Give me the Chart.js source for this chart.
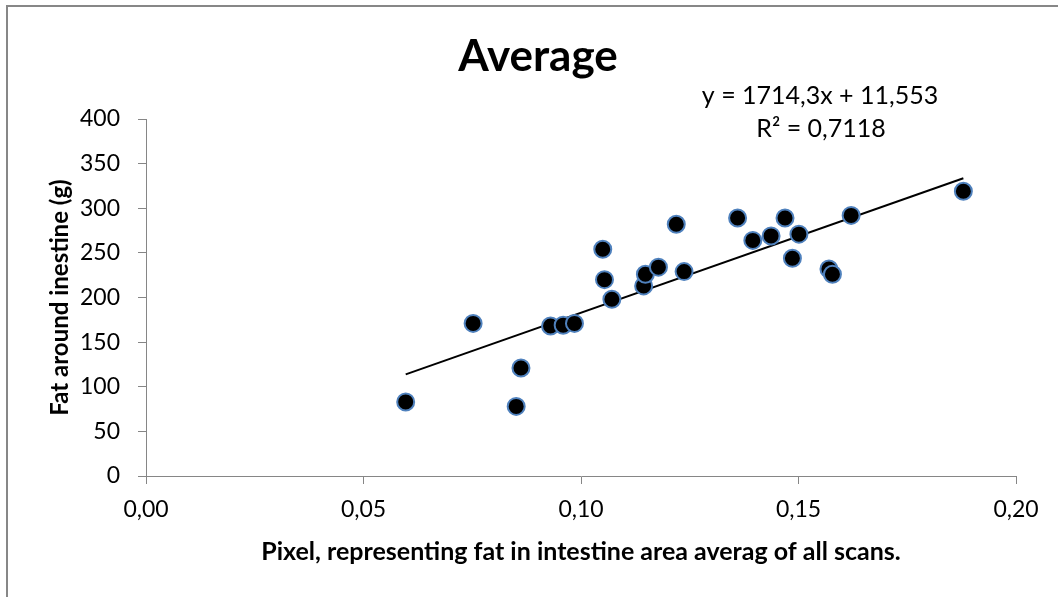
<!DOCTYPE html>
<html lang="en">
<head>
    <meta charset="UTF-8">
    <title>Average</title>
    <script src="https://cdn.jsdelivr.net/npm/chart.js"></script>
    <style>
        body {
            margin: 0;
            background-color: #ffffff;
            overflow: hidden;
        }
        #frame {
            position: absolute;
            left: 6px;
            top: 5px;
            width: 1060px;
            height: 600px;
            border-left: 2px solid #878787;
            border-top: 2px solid #878787;
        }
        #chart-box {
            position: absolute;
            left: 0;
            top: 0;
        }
    </style>
</head>
<body>

<div id="frame"></div>
<div id="chart-box">
    <canvas id="avgChart" width="1058" height="597"></canvas>
</div>

<script>
    // values
    const pixelFat = [0.0597, 0.0752, 0.0851, 0.0862, 0.0930, 0.0959, 0.0985, 0.1050, 0.1054, 0.1071,
                      0.1144, 0.1148, 0.1178, 0.1219, 0.1237, 0.1360, 0.1395, 0.1437, 0.1469, 0.1486,
                      0.1501, 0.1570, 0.1578, 0.1621, 0.1879];
    const fatGrams = [83, 171, 78, 121, 168, 169, 171, 254, 220, 198,
                      213, 226, 234, 282, 229, 289, 264, 269, 289, 244,
                      271, 232, 226, 292, 319];
    const xTicks = [0, 0.05, 0.10, 0.15, 0.20];
    const yTicks = [0, 50, 100, 150, 200, 250, 300, 350, 400];

    // trendline as printed on the chart
    const slope = 1714.3;
    const intercept = 11.553;
    const equationLines = ['y = 1714,3x + 11,553', 'R\u00B2 = 0,7118'];

    const FONT = 'Lato, "Open Sans", sans-serif';
    const GREY = '#868686';

    const points = pixelFat.map((x, i) => ({ x: x, y: fatGrams[i] }));
    const xMin = Math.min(...pixelFat);
    const xMax = Math.max(...pixelFat);
    const trend = [
        { x: xMin, y: slope * xMin + intercept },
        { x: xMax, y: slope * xMax + intercept }
    ];

    // title and equation text, placed like the original
    const textPlugin = {
        id: 'chartText',
        afterDraw(chart) {
            const ctx = chart.ctx;
            ctx.save();
            ctx.fillStyle = '#000';
            ctx.textAlign = 'center';
            ctx.textBaseline = 'alphabetic';
            ctx.font = 'bold 44px ' + FONT;
            ctx.fillText('Average', 538, 71);
            ctx.font = '25px ' + FONT;
            ctx.fillText(equationLines[0], 820, 104);
            ctx.fillText(equationLines[1], 821, 137);
            ctx.restore();
        }
    };

    const ctx = document.getElementById('avgChart').getContext('2d');

    new Chart(ctx, {
        type: 'scatter',
        data: {
            datasets: [
                {
                    label: 'Average',
                    data: points,
                    backgroundColor: '#000000',
                    borderColor: '#4f81bd',
                    borderWidth: 2,
                    pointRadius: 8.5,
                    order: 0
                },
                {
                    label: 'Linear (Average)',
                    type: 'line',
                    data: trend,
                    borderColor: '#000000',
                    borderWidth: 2,
                    pointRadius: 0,
                    fill: false,
                    order: 1
                }
            ]
        },
        options: {
            responsive: false,
            animation: false,
            layout: {
                padding: { top: 119, right: 42, bottom: 0, left: 0 }
            },
            plugins: {
                legend: { display: false },
                tooltip: { enabled: false },
                title: { display: false }
            },
            scales: {
                x: {
                    type: 'linear',
                    min: 0,
                    max: 0.2,
                    afterBuildTicks: scale => { scale.ticks = xTicks.map(v => ({ value: v })); },
                    afterFit: scale => { scale.height = 121; },
                    ticks: {
                        color: '#000',
                        padding: 12,
                        maxRotation: 0,
                        font: { family: FONT, size: 23 },
                        callback: v => v.toFixed(2).replace('.', ',')
                    },
                    grid: {
                        display: true,
                        drawOnChartArea: false,
                        drawTicks: true,
                        tickLength: 8,
                        color: GREY
                    },
                    border: { display: true, color: GREY, width: 1 },
                    title: {
                        display: true,
                        text: 'Pixel, representing fat in intestine area averag of all scans.',
                        color: '#000',
                        font: { family: FONT, size: 25, weight: 'bold' },
                        padding: { top: 0, bottom: 30 }
                    }
                },
                y: {
                    min: 0,
                    max: 400,
                    afterBuildTicks: scale => { scale.ticks = yTicks.map(v => ({ value: v })); },
                    afterFit: scale => { scale.width = 146; },
                    ticks: {
                        color: '#000',
                        padding: 18,
                        font: { family: FONT, size: 23 }
                    },
                    grid: {
                        display: true,
                        drawOnChartArea: false,
                        drawTicks: true,
                        tickLength: 8,
                        color: GREY
                    },
                    border: { display: true, color: GREY, width: 1 },
                    title: {
                        display: true,
                        text: 'Fat around inestine (g)',
                        color: '#000',
                        font: { family: FONT, size: 24, weight: 'bold' },
                        padding: { top: 46, bottom: 0 }
                    }
                }
            }
        },
        plugins: [textPlugin]
    });
</script>

</body>
</html>
